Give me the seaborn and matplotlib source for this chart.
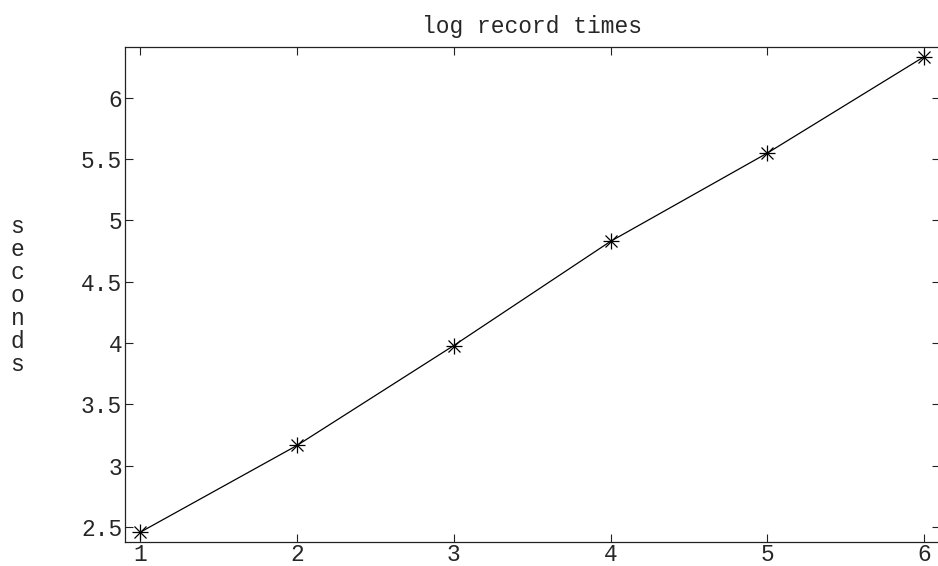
import numpy as np
import pandas as pd
import matplotlib
matplotlib.use('Agg')
import matplotlib.pyplot as plt
import seaborn as sns

# ================================
# 데이터
# ================================
records = [1, 2, 3, 4, 5, 6]
seconds = [2.457, 3.165, 3.98, 4.83, 5.55, 6.336]
xticks = [1, 2, 3, 4, 5, 6]
yticks = [2.5, 3, 3.5, 4, 4.5, 5, 5.5, 6]
ytick_labels = ['2.5', '3', '3.5', '4', '4.5', '5', '5.5', '6']

df = pd.DataFrame({'record': records, 'seconds': seconds})

# ================================
# 스타일
# ================================
sns.set_style('ticks')
plt.rcParams['font.family'] = ['Liberation Mono', 'DejaVu Sans Mono']
plt.rcParams['xtick.direction'] = 'in'
plt.rcParams['ytick.direction'] = 'in'

fig = plt.figure(figsize=(9.38, 5.66), dpi=100)
ax = fig.add_axes([0.1333, 0.0424, 0.8687, 0.8746])

sns.lineplot(data=df, x='record', y='seconds', ax=ax, color='black',
             linewidth=0.9, marker='+', markersize=12, markeredgewidth=0.9,
             markeredgecolor='black')
ax.plot(df['record'], df['seconds'], linestyle='none', marker='x',
        markersize=8.5, markeredgewidth=0.9, color='black')

ax.set_xlim(0.904, 6.1)
ax.set_ylim(2.378, 6.415)
ax.set_xticks(xticks)
ax.set_xticklabels([str(t) for t in xticks])
ax.set_yticks(yticks)
ax.set_yticklabels(ytick_labels)
ax.tick_params(axis='both', which='both', length=6, width=0.8,
               top=True, right=True, labelsize=16.5, color='#222222', pad=2)
ax.tick_params(axis='x', pad=0.5)

for s in ax.spines.values():
    s.set_visible(True)
    s.set_color('#222222')
    s.set_linewidth(0.9)

ax.set_xlabel('')
ax.set_ylabel('')
ax.set_title('log record times', fontsize=16.5, pad=10)
fig.text(0.0185, 0.478, '\n'.join('seconds'), ha='center', va='center',
         fontsize=16.5, linespacing=1.0)

fig.savefig('out.png', dpi=100)
